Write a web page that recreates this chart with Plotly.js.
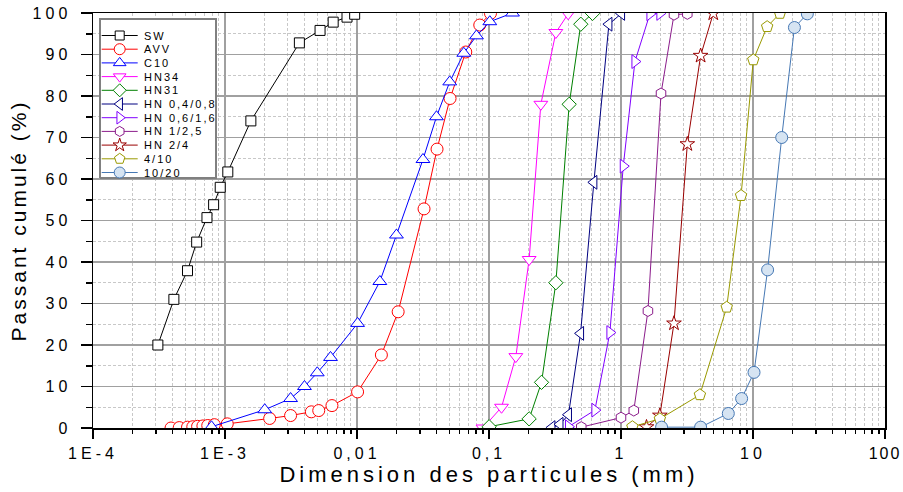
<!DOCTYPE html>
<html>
<head>
<meta charset="utf-8">
<script src="https://cdn.plot.ly/plotly-3.0.1.min.js"></script>
<style>
  html, body { margin: 0; padding: 0; background: #fff; }
  #chart { width: 903px; height: 492px; }
  .xtick text { letter-spacing: 4px; }
  .xaxislayer-above g.xtick:last-of-type text { letter-spacing: 2px; }
  .ytick text { letter-spacing: 4px; }
  .xtitle { letter-spacing: 4px; }
  .ytitle { letter-spacing: 3px; }
  .annotation-text { letter-spacing: 2px; }
</style>
</head>
<body>
<div id="chart"></div>
<script>
// ---------------- data (particle size in mm, cumulative passing in %) ----------------
const seriesNames = ["SW", "AVV", "C10", "HN34", "HN31", "HN 0,4/0,8", "HN 0,6/1,6", "HN 1/2,5", "HN 2/4", "4/10", "10/20"];

const swX = [0.00031, 0.00041, 0.00052, 0.00061, 0.00073, 0.00082, 0.00092, 0.00105, 0.00157, 0.00366, 0.00525, 0.0066, 0.0084, 0.0096];
const swY = [20, 31, 37.9, 44.8, 50.7, 53.8, 58.0, 61.7, 74.0, 92.8, 95.8, 97.8, 99.0, 99.7];

const avvX = [0.00039, 0.00045, 0.00052, 0.00057, 0.00062, 0.00068, 0.00074, 0.00083, 0.00104, 0.00218, 0.00314, 0.00451, 0.00513, 0.00646, 0.0101, 0.0153, 0.0205, 0.0322, 0.0404, 0.0507, 0.0667, 0.0851, 0.1026];
const avvY = [0.0, 0.1, 0.2, 0.3, 0.4, 0.5, 0.6, 0.8, 1.0, 2.3, 3.0, 3.9, 4.2, 5.4, 8.7, 17.6, 28.0, 52.8, 67.2, 79.4, 90.6, 97.1, 99.9];

const c10X = [0.00079, 0.0020, 0.00314, 0.0040, 0.0050, 0.0063, 0.0101, 0.0149, 0.0199, 0.0316, 0.040, 0.0504, 0.0644, 0.0804, 0.1014, 0.1507];
const c10Y = [0.3, 4.4, 7.1, 10.0, 13.3, 17.0, 25.2, 35.3, 46.5, 64.7, 75.0, 83.4, 90.3, 94.5, 97.9, 100];

const hn34X = [0.09, 0.1244, 0.1597, 0.2014, 0.247, 0.321, 0.398];
const hn34Y = [0, 5.0, 17.2, 40.6, 78.0, 95.3, 99.8];

const hn31X = [0.1002, 0.2014, 0.25, 0.321, 0.405, 0.496, 0.609];
const hn31Y = [0.3, 2.2, 11.0, 35.0, 78.0, 97.3, 99.9];

const hn0408X = [0.30, 0.345, 0.40, 0.494, 0.623, 0.81, 1.01];
const hn0408Y = [0.1, 0.9, 3.2, 22.8, 59.2, 97.3, 99.9];

const hn0616X = [0.40, 0.634, 0.824, 1.04, 1.275, 1.656, 1.97];
const hn0616Y = [0.3, 4.3, 23.0, 63.1, 88.3, 99.8, 99.9];

const hn125X = [0.50, 1.0, 1.25, 1.6, 2.01, 2.52, 3.18];
const hn125Y = [0.2, 2.5, 4.2, 28.2, 80.6, 99.6, 99.8];

const hn24X = [1.56, 1.97, 2.52, 3.18, 4.01, 5.0];
const hn24Y = [0.2, 3.0, 25.2, 68.4, 89.7, 99.9];

const g410X = [1.22, 1.97, 3.96, 6.32, 8.12, 10.05, 12.8, 16.0];
const g410Y = [0.3, 2.2, 8.0, 29.1, 56.0, 88.7, 96.7, 99.9];

const g1020X = [2.03, 4.01, 6.5, 8.2, 10.18, 12.9, 16.5, 20.6, 25.8];
const g1020Y = [0.2, 0.2, 3.5, 7.1, 13.4, 38.1, 70.0, 96.5, 99.8];

const xTickVals = [1e-4, 1e-3, 0.01, 0.1, 1, 10, 100];
const xTickText = ["1E-4", "1E-3", "0,01", "0,1", "1", "10", "100"];

// ---------------- styles ----------------
const seriesData = [[swX, swY], [avvX, avvY], [c10X, c10Y], [hn34X, hn34Y], [hn31X, hn31Y],
  [hn0408X, hn0408Y], [hn0616X, hn0616Y], [hn125X, hn125Y], [hn24X, hn24Y], [g410X, g410Y], [g1020X, g1020Y]];
const colors = ["#000000", "#ff0000", "#0000ff", "#ff00ff", "#008000", "#000080", "#8000ff", "#8b1c8b", "#990000", "#999900", "#4678b4"];
const symbols = ["square", "circle", "triangle-up", "triangle-down", "diamond", "triangle-left", "triangle-right", "hexagon", "star", "pentagon", "circle"];
const sizes = [10, 12, 12, 12, 11, 12, 12, 11, 11, 12, 12];
const fills = ["#fff", "#fff", "#fff", "#fff", "#fff", "#fff", "#fff", "#fff", "#fff", "#fff", "#d6e4f2"];

const traces = [];
seriesData.forEach((d, i) => {
  traces.push({
    type: "scatter", mode: "lines+markers", name: seriesNames[i],
    x: d[0], y: d[1], xaxis: "x", yaxis: "y",
    line: { color: colors[i], width: 1 },
    marker: { symbol: symbols[i], size: sizes[i], color: fills[i], line: { color: colors[i], width: 1 } },
    showlegend: false, hoverinfo: "skip"
  });
});

// ---------------- hand-built legend on an overlay axis pair (pixel-like units) ----------------
const legBox = { x0: 7, x1: 123, y0: 250, y1: 409 };
const legTop = 392.5, legStep = 13.7, legLine = [8.7, 26.7, 44.7], legText = 48.5;
traces.push({
  type: "scatter", mode: "lines", xaxis: "x2", yaxis: "y2",
  x: [legBox.x0, legBox.x1, legBox.x1, legBox.x0, legBox.x0],
  y: [legBox.y0, legBox.y0, legBox.y1, legBox.y1, legBox.y0],
  fill: "toself", fillcolor: "#ffffff", line: { color: "#808080", width: 2 },
  showlegend: false, hoverinfo: "skip"
});
const annotations = [];
seriesNames.forEach((nm, i) => {
  const yy = legTop - legStep * i;
  traces.push({
    type: "scatter", mode: "lines+markers", xaxis: "x2", yaxis: "y2",
    x: legLine, y: [yy, yy, yy],
    line: { color: colors[i], width: 1 },
    marker: { symbol: symbols[i], size: sizes[i] - 1, color: fills[i], opacity: [0, 1, 0], line: { color: colors[i], width: 1 } },
    showlegend: false, hoverinfo: "skip"
  });
  annotations.push({
    xref: "x2", yref: "y2", x: legText, y: yy, text: nm, showarrow: false,
    xanchor: "left", yanchor: "middle", font: { size: 11, color: "#000" }
  });
});

// minor log ticks 2..9 in each decade
const xMinor = [];
for (let k = -4; k < 2; k++) for (let d = 2; d <= 9; d++) xMinor.push(d * Math.pow(10, k));

const layout = {
  width: 903, height: 492,
  margin: { l: 93, r: 18, t: 13, b: 64, pad: 0 },
  paper_bgcolor: "#ffffff", plot_bgcolor: "#ffffff",
  showlegend: false,
  font: { family: "Liberation Sans, Arial, sans-serif", color: "#000" },
  xaxis: {
    type: "log", range: [-4, 2], tickmode: "array", tickvals: xTickVals, ticktext: xTickText,
    showgrid: true, gridcolor: "#a0a0a0", gridwidth: 1.5,
    ticks: "outside", ticklen: 9, tickwidth: 1.5, tickcolor: "#000",
    showline: true, linecolor: "#000", linewidth: 1.5, mirror: true, zeroline: false,
    tickfont: { size: 16, color: "#000" }, ticklabelstandoff: 1, ticklabeloverflow: "allow",
    minor: { tickmode: "array", tickvals: xMinor, ticks: "outside", ticklen: 4, tickwidth: 1.5, tickcolor: "#000",
             showgrid: true, gridcolor: "#c8c8c8", gridwidth: 1, griddash: "3px,2px" },
    title: { text: "Dimension des particules (mm)", font: { size: 22, color: "#000" }, standoff: 4 }
  },
  yaxis: {
    range: [0, 100], tickmode: "linear", tick0: 0, dtick: 10,
    showgrid: true, gridcolor: "#a0a0a0", gridwidth: 1.5,
    ticks: "outside", ticklen: 11, tickwidth: 1.5, tickcolor: "#000",
    showline: true, linecolor: "#000", linewidth: 1.5, mirror: true, zeroline: false,
    tickfont: { size: 16, color: "#000" }, ticklabelstandoff: 6, ticklabeloverflow: "allow",
    minor: { dtick: 5, ticks: "outside", ticklen: 6, tickwidth: 1.5, tickcolor: "#000",
             showgrid: true, gridcolor: "#c8c8c8", gridwidth: 1, griddash: "3px,2px" },
    title: { text: "Passant cumulé (%)", font: { size: 21, color: "#000" }, standoff: 0 }
  },
  xaxis2: { overlaying: "x", anchor: "y2", range: [0, 792], visible: false, fixedrange: true },
  yaxis2: { overlaying: "y", anchor: "x2", range: [0, 415], visible: false, fixedrange: true },
  annotations: annotations
};

Plotly.newPlot("chart", traces, layout, { displayModeBar: false, staticPlot: true });
</script>
</body>
</html>
